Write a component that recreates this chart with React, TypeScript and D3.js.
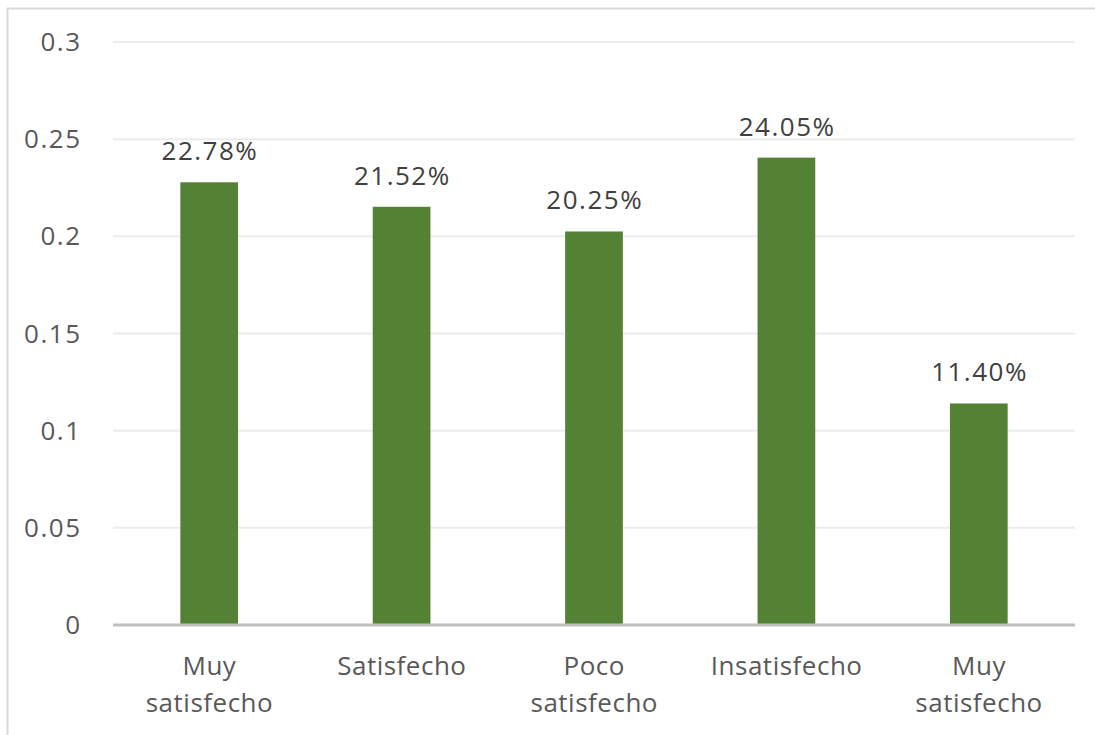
import * as d3 from 'd3'

const categories = [
  ['Muy', 'satisfecho'],
  ['Satisfecho'],
  ['Poco', 'satisfecho'],
  ['Insatisfecho'],
  ['Muy', 'satisfecho'],
]
const values = [0.2278, 0.2152, 0.2025, 0.2405, 0.114]
const yTicks = [0, 0.05, 0.1, 0.15, 0.2, 0.25, 0.3]

const WIDTH = 1095
const HEIGHT = 735
const MARGINS = { top: 42, right: 20, bottom: 110, left: 113 }
const FONT = '"Open Sans", "Noto Sans", sans-serif'
const TEXT_COLOR = '#595959'
const BAR_COLOR = '#548235'
const NUM_SPACING = 1.5
const CAT_SPACING = 0.5

export default function App() {
  const plotRight = WIDTH - MARGINS.right
  const plotBottom = HEIGHT - MARGINS.bottom
  const x = d3
    .scaleBand<number>()
    .domain(values.map((_, i) => i))
    .range([MARGINS.left, plotRight])
    .paddingInner(0.7)
    .paddingOuter(0.35)
  const y = d3.scaleLinear().domain([0, 0.3]).range([plotBottom, MARGINS.top])
  const pct = d3.format('.2%')
  const center = (i: number) => (x(i) ?? 0) + x.bandwidth() / 2

  return (
    <svg
      width={WIDTH}
      height={HEIGHT}
      style={{ position: 'absolute', left: 0, top: 0, background: '#fff' }}
      fontFamily={FONT}
    >
      <rect x={7.5} y={8.5} width={WIDTH + 10} height={HEIGHT + 10} fill="#fff" stroke="#d9d9d9" strokeWidth={2} />

      {yTicks.map((t) => (
        <g key={t}>
          {t > 0 ? (
            <line x1={MARGINS.left} x2={plotRight} y1={y(t)} y2={y(t)} stroke="#ececec" strokeWidth={2} />
          ) : null}
          <text
            x={80 + NUM_SPACING}
            y={y(t)}
            dy="0.35em"
            textAnchor="end"
            fontSize={26}
            letterSpacing={NUM_SPACING}
            fill={TEXT_COLOR}
          >
            {String(t)}
          </text>
        </g>
      ))}

      {values.map((v, i) => (
        <g key={i}>
          <rect
            x={x(i)}
            y={y(v)}
            width={x.bandwidth()}
            height={plotBottom - y(v)}
            fill={BAR_COLOR}
          />
          <text
            x={center(i) + NUM_SPACING / 2}
            y={y(v) - 22}
            textAnchor="middle"
            fontSize={26}
            letterSpacing={NUM_SPACING}
            fill="#404040"
          >
            {pct(v)}
          </text>
          {categories[i].map((line, j) => (
            <text
              key={j}
              x={center(i) + CAT_SPACING / 2}
              y={plotBottom + 50 + j * 37}
              textAnchor="middle"
              fontSize={26}
              letterSpacing={CAT_SPACING}
              fill={TEXT_COLOR}
            >
              {line}
            </text>
          ))}
        </g>
      ))}

      <line x1={MARGINS.left} x2={plotRight} y1={plotBottom} y2={plotBottom} stroke="#bfbfbf" strokeWidth={3} />
    </svg>
  )
}
